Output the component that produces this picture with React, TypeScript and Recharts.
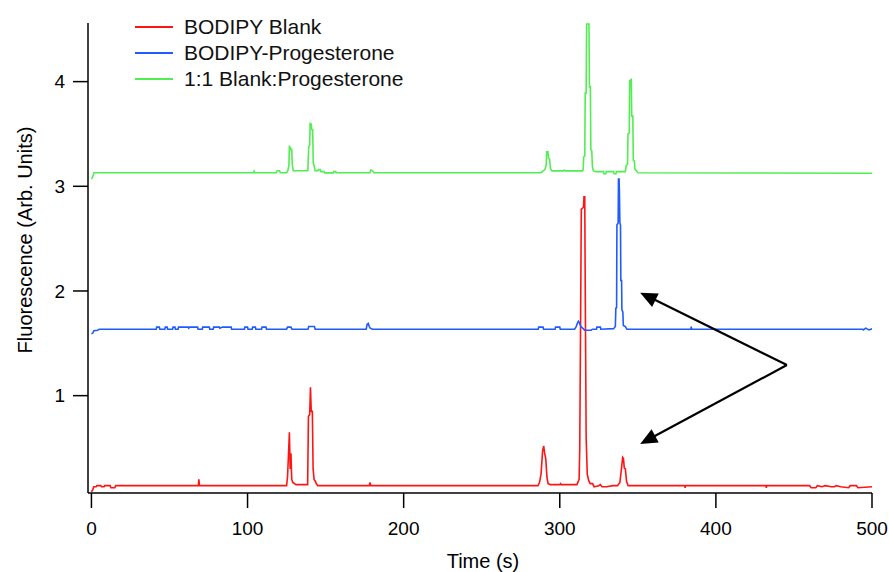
import React from 'react';
import { LineChart, Line, XAxis, YAxis, Legend, ReferenceLine } from 'recharts';

const FONT = '"Liberation Sans", Arial, sans-serif';

const seriesNames = ['BODIPY Blank', 'BODIPY-Progesterone', '1:1 Blank:Progesterone'];
const seriesColors = ['#ff1414', '#1f5bff', '#50ee50'];

const xTicks = [0, 100, 200, 300, 400, 500];
const yTicks = [1, 2, 3, 4];

// BODIPY Blank trace: [time (s), fluorescence]
const blankTrace: [number, number][] = [
  [0, 0.08], [0.8, 0.1], [1.5, 0.13], [3, 0.13], [3.5, 0.14], [6, 0.14], [6.5, 0.13], [8, 0.13],
  [8.5, 0.14], [12, 0.14], [12.5, 0.12], [15, 0.12], [15.5, 0.14], [68.5, 0.14], [68.8, 0.2],
  [69.2, 0.14], [125, 0.14], [125.6, 0.22], [126.4, 0.5], [126.8, 0.65], [127.3, 0.3], [127.8, 0.45],
  [128.3, 0.2], [129, 0.17], [131, 0.15], [138.5, 0.15], [139, 0.8], [139.8, 0.82], [140.3, 1.08],
  [140.8, 0.85], [141.5, 0.85], [142, 0.3], [142.6, 0.2], [143.5, 0.18], [144, 0.16], [145, 0.14],
  [178, 0.14], [178.4, 0.17], [179, 0.14], [286, 0.14], [287, 0.17], [288, 0.25], [289, 0.47],
  [289.7, 0.52], [290.3, 0.45], [291, 0.4], [291.8, 0.22], [292.5, 0.16], [294, 0.15], [300, 0.15],
  [300.5, 0.16], [301, 0.15], [311, 0.15], [312.4, 0.2], [312.8, 0.5], [313.8, 2.78], [315.2, 2.8],
  [315.5, 2.9], [316, 2.9], [316.3, 2.06], [316.9, 0.6], [317.6, 0.25], [318.5, 0.19], [319.5, 0.16],
  [321, 0.16], [322, 0.13], [325, 0.14], [326, 0.15], [327, 0.13], [330, 0.13], [334, 0.14],
  [337, 0.14], [338.5, 0.17], [339.5, 0.3], [340.3, 0.41], [340.8, 0.4], [341.3, 0.31], [342, 0.3],
  [342.8, 0.18], [343.8, 0.14], [380, 0.14], [380.3, 0.12], [380.6, 0.14], [432, 0.14], [432.3, 0.12],
  [432.6, 0.14], [460, 0.14], [461, 0.12], [464, 0.12], [465, 0.14], [468, 0.13], [470, 0.14],
  [474, 0.13], [476, 0.13], [477, 0.14], [480, 0.13], [485, 0.12], [486, 0.14], [490, 0.14],
  [491, 0.12], [500, 0.13],
];

// BODIPY-Progesterone trace
const progTrace: [number, number][] = [
  [0, 1.59], [1, 1.6], [1.5, 1.62], [4, 1.625], [5, 1.635], [41.5, 1.635], [41.8, 1.655], [43.5, 1.655],
  [43.8, 1.635], [47, 1.635], [47.3, 1.655], [48.5, 1.655], [48.8, 1.635], [52, 1.635], [52.3, 1.655],
  [53.5, 1.655], [53.8, 1.635], [55.5, 1.635], [55.8, 1.655], [62, 1.655], [62.3, 1.645], [63, 1.655],
  [68, 1.655], [68.3, 1.635], [71, 1.635], [71.3, 1.655], [75.5, 1.655], [75.8, 1.635], [78, 1.635],
  [78.3, 1.655], [82, 1.655], [82.3, 1.645], [84, 1.655], [89.5, 1.655], [89.8, 1.635], [98, 1.635],
  [98.3, 1.655], [100, 1.655], [100.3, 1.635], [103, 1.635], [103.3, 1.655], [105, 1.655],
  [105.3, 1.635], [109, 1.635], [109.3, 1.655], [111.8, 1.655], [112.1, 1.635], [125, 1.635],
  [125.6, 1.655], [127.8, 1.655], [128.4, 1.635], [138.7, 1.635], [139.2, 1.66], [142.8, 1.66],
  [143.3, 1.635], [176, 1.635], [176.6, 1.68], [177.3, 1.69], [178, 1.66], [178.6, 1.645], [180, 1.635],
  [286.2, 1.635], [286.5, 1.655], [289.3, 1.655], [289.6, 1.635], [297, 1.635], [297.3, 1.655],
  [300, 1.655], [300.3, 1.635], [309.5, 1.635], [310.5, 1.66], [311.5, 1.7], [312, 1.71],
  [312.7, 1.69], [313.5, 1.66], [315, 1.64], [316, 1.625], [320, 1.625], [321, 1.635], [323.5, 1.635],
  [323.8, 1.655], [326, 1.655], [326.3, 1.635], [334.5, 1.64], [335.6, 1.66], [335.9, 1.835],
  [336.4, 1.84], [336.6, 2.63], [337.4, 2.65], [337.6, 3.07], [338, 3.07], [338.2, 2.95], [338.5, 2.65],
  [338.9, 2.63], [339.1, 2.1], [339.6, 2.1], [339.8, 1.82], [340.4, 1.8], [340.7, 1.67], [342, 1.66],
  [343, 1.635], [384, 1.635], [384.2, 1.66], [384.5, 1.635], [494, 1.635], [494.5, 1.628],
  [496, 1.645], [498, 1.628], [500, 1.638],
];

// 1:1 Blank:Progesterone trace
const mixTrace: [number, number][] = [
  [0, 3.07], [0.8, 3.09], [1.6, 3.13], [103.8, 3.13], [104.2, 3.145], [104.6, 3.13], [118.5, 3.13],
  [119, 3.148], [120.5, 3.148], [121, 3.13], [125, 3.13], [125.8, 3.15], [126.5, 3.2], [126.8, 3.38],
  [127.5, 3.37], [127.8, 3.35], [128.3, 3.35], [128.7, 3.2], [129.3, 3.148], [138.6, 3.148],
  [139.2, 3.38], [139.8, 3.39], [140.1, 3.6], [140.8, 3.595], [141.2, 3.54], [141.7, 3.54],
  [142.1, 3.22], [142.8, 3.19], [143.2, 3.15], [145, 3.15], [145.5, 3.16], [146.5, 3.16], [147, 3.14],
  [149, 3.14], [149.5, 3.128], [155, 3.128], [155.3, 3.14], [156.5, 3.14], [156.8, 3.13], [178.5, 3.13],
  [179, 3.155], [180, 3.15], [181, 3.13], [288, 3.13], [289.5, 3.15], [290.5, 3.16], [291.3, 3.2],
  [291.6, 3.33], [292.4, 3.33], [292.8, 3.27], [293.5, 3.26], [294, 3.17], [295, 3.147], [302.5, 3.147],
  [303, 3.155], [303.5, 3.147], [314.5, 3.147], [315, 3.16], [315.3, 3.28], [316, 3.29], [316.3, 3.89],
  [316.9, 3.89], [317.2, 4.55], [318.7, 4.55], [319, 3.95], [319.6, 3.95], [319.9, 3.35], [320.5, 3.34],
  [320.9, 3.19], [321.5, 3.15], [322.5, 3.14], [328, 3.14], [328.2, 3.12], [329.5, 3.12], [329.8, 3.14],
  [334.5, 3.14], [334.8, 3.12], [336, 3.12], [336.3, 3.14], [342, 3.14], [342.6, 3.2], [343.4, 3.21],
  [343.7, 3.5], [344.5, 3.51], [344.8, 4.01], [345.8, 4.02], [346.1, 3.67], [346.8, 3.67], [347.1, 3.25],
  [347.8, 3.24], [348.2, 3.16], [349, 3.15], [350, 3.13], [500, 3.125],
];

// Annotation arrows (data coordinates)
const arrowTail = { x: 445.5, y: 1.293 };
const arrowHeads = [
  { x: 351.5, y: 1.984 },
  { x: 351.5, y: 0.539 },
];

const toRows = (trace: [number, number][]) => trace.map(([t, v]) => ({ t, v }));
const traces = [blankTrace, progTrace, mixTrace];

const ArrowShape = (props: any) => {
  const { x1, y1, x2, y2 } = props;
  const dx = x2 - x1;
  const dy = y2 - y1;
  const len = Math.hypot(dx, dy) || 1;
  const ux = dx / len;
  const uy = dy / len;
  const hl = 17;
  const hw = 7.5;
  const bx = x2 - ux * hl;
  const by = y2 - uy * hl;
  const pts = `${x2},${y2} ${bx - uy * hw},${by + ux * hw} ${bx + uy * hw},${by - ux * hw}`;
  return (
    <g>
      <line x1={x1} y1={y1} x2={bx + ux * 3} y2={by + uy * 3} stroke="#000" strokeWidth={2.2} />
      <polygon points={pts} fill="#000" />
    </g>
  );
};

const renderYLabel = (props: any) => {
  const vb = props.viewBox || { x: 0, y: 23, width: 88, height: 470 };
  const cx = vb.x + 32;
  const cy = vb.y + vb.height / 2 - 18;
  return (
    <text
      x={cx}
      y={cy}
      transform={`rotate(-90 ${cx} ${cy})`}
      textAnchor="middle"
      fill="#000"
      fontSize={20}
      fontFamily={FONT}
    >
      Fluorescence (Arb. Units)
    </text>
  );
};

const renderXLabel = (props: any) => {
  const vb = props.viewBox || { x: 88, y: 493, width: 784, height: 79 };
  return (
    <text
      x={vb.x + vb.width / 2 + 3}
      y={vb.y + vb.height - 4.5}
      textAnchor="middle"
      fill="#000"
      fontSize={20}
      fontFamily={FONT}
    >
      Time (s)
    </text>
  );
};

const renderLegend = () => (
  <div style={{ fontFamily: FONT, fontSize: 21, color: '#111' }}>
    {seriesNames.map((name, i) => (
      <div key={name} style={{ display: 'flex', alignItems: 'center', height: 26, whiteSpace: 'nowrap' }}>
        <div style={{ width: 38, height: 2, background: seriesColors[i], marginRight: 11 }} />
        <span style={{ lineHeight: '26px' }}>{name}</span>
      </div>
    ))}
  </div>
);

export default function App() {
  return (
    <div style={{ position: 'absolute', left: 0, top: 0, width: 889, height: 572, background: '#fff' }}>
      <LineChart width={889} height={572} margin={{ top: 23, right: 17, bottom: 0, left: 0 }}>
        <XAxis
          type="number"
          dataKey="t"
          domain={[-2.2, 500]}
          allowDataOverflow
          ticks={xTicks}
          interval={0}
          height={79}
          tickSize={15}
          tickMargin={14}
          stroke="#000"
          strokeWidth={1.5}
          tick={{ fill: '#000', fontSize: 19, fontFamily: FONT }}
          label={renderXLabel}
        />
        <YAxis
          type="number"
          domain={[0.07, 4.56]}
          allowDataOverflow
          ticks={yTicks}
          interval={0}
          width={88}
          tickSize={15}
          tickMargin={8}
          stroke="#000"
          strokeWidth={1.5}
          tick={{ fill: '#000', fontSize: 19, fontFamily: FONT }}
          label={renderYLabel}
        />
        <Legend
          layout="vertical"
          align="center"
          verticalAlign="middle"
          content={renderLegend}
          wrapperStyle={{ left: 135, top: 14, width: 400, height: 80 }}
        />
        {traces.map((tr, i) => (
          <Line
            key={seriesNames[i]}
            data={toRows(tr)}
            dataKey="v"
            name={seriesNames[i]}
            type="linear"
            stroke={seriesColors[i]}
            strokeWidth={1.6}
            dot={false}
            activeDot={false}
            isAnimationActive={false}
          />
        ))}
        {arrowHeads.map((h, i) => (
          <ReferenceLine
            key={`arrow-${i}`}
            segment={[arrowTail, h]}
            ifOverflow="visible"
            shape={ArrowShape}
          />
        ))}
      </LineChart>
    </div>
  );
}
